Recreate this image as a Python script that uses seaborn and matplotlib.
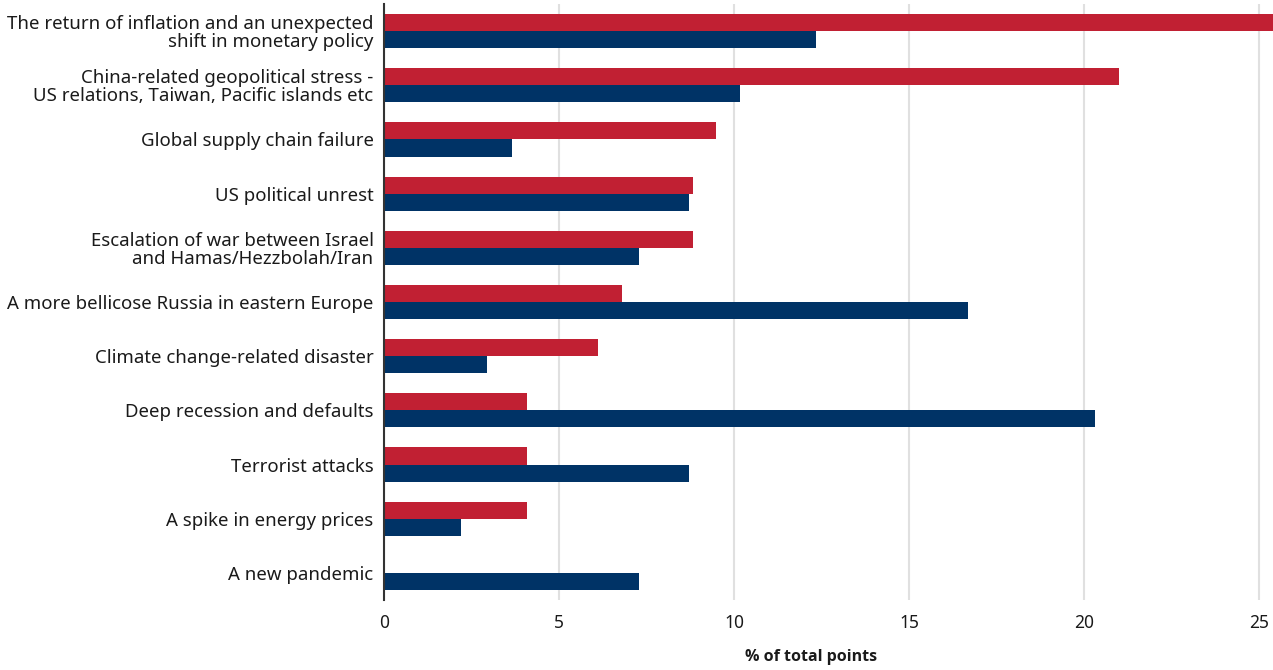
import matplotlib
matplotlib.use("Agg")
import matplotlib.pyplot as plt
import seaborn as sns
import pandas as pd

categories = [
    "The return of inflation and an unexpected\nshift in monetary policy",
    "China-related geopolitical stress -\nUS relations, Taiwan, Pacific islands etc",
    "Global supply chain failure",
    "US political unrest",
    "Escalation of war between Israel\nand Hamas/Hezzbolah/Iran",
    "A more bellicose Russia in eastern Europe",
    "Climate change-related disaster",
    "Deep recession and defaults",
    "Terrorist attacks",
    "A spike in energy prices",
    "A new pandemic",
]
current_survey = [25.4, 21.0, 9.49, 8.83, 8.83, 6.8, 6.11, 4.09, 4.09, 4.09, 0.0]
previous_survey = [12.34, 10.17, 3.66, 8.71, 7.29, 16.69, 2.94, 20.31, 8.71, 2.2, 7.29]
series_names = ["Current survey", "Previous survey"]
series_colors = ["#C12033", "#003366"]
x_ticks = [0, 5, 10, 15, 20, 25]
x_label = "% of total points"

df = pd.DataFrame({
    "risk": categories * 2,
    "share": current_survey + previous_survey,
    "survey": [series_names[0]] * len(categories) + [series_names[1]] * len(categories),
})

sns.set_theme(style="white")
plt.rcParams["font.family"] = ["Noto Sans", "DejaVu Sans"]

fig = plt.figure(figsize=(12.73, 6.70), dpi=100)
ax = fig.add_axes([384 / 1273, 1 - 600 / 670, 1 - 384 / 1273, 596 / 670])

sns.barplot(
    data=df, y="risk", x="share", hue="survey",
    palette=dict(zip(series_names, series_colors)),
    orient="h", width=0.63, saturation=1, ax=ax, legend=False,
    linewidth=0, edgecolor="none",
)

ax.set_xlim(0, 25.4)
ax.set_ylim(len(categories) - 0.5, -0.5)
ax.set_xticks(x_ticks)
ax.set_xticklabels([str(t) for t in x_ticks], fontsize=12.5, color="#1a1a1a")
ax.set_ylabel("")
ax.set_xlabel(x_label, fontsize=11.5, fontweight="bold", color="#1a1a1a",
              family=["Open Sans", "DejaVu Sans"])
ax.xaxis.set_label_coords((811 - 384) / 889, -0.083)
ax.tick_params(axis="y", length=0, pad=7.5, labelsize=13.4, labelcolor="#1a1a1a")
ax.tick_params(axis="x", length=0, pad=10)
for lbl in ax.get_yticklabels():
    lbl.set_linespacing(1.0)

ax.grid(axis="x", color="#e0e0e0", linewidth=1.5)
ax.grid(axis="y", visible=False)
ax.set_axisbelow(True)
for side in ["top", "right", "bottom"]:
    ax.spines[side].set_visible(False)
ax.spines["left"].set_color("#333333")
ax.spines["left"].set_linewidth(1.5)

fig.savefig("out.png", dpi=100)
